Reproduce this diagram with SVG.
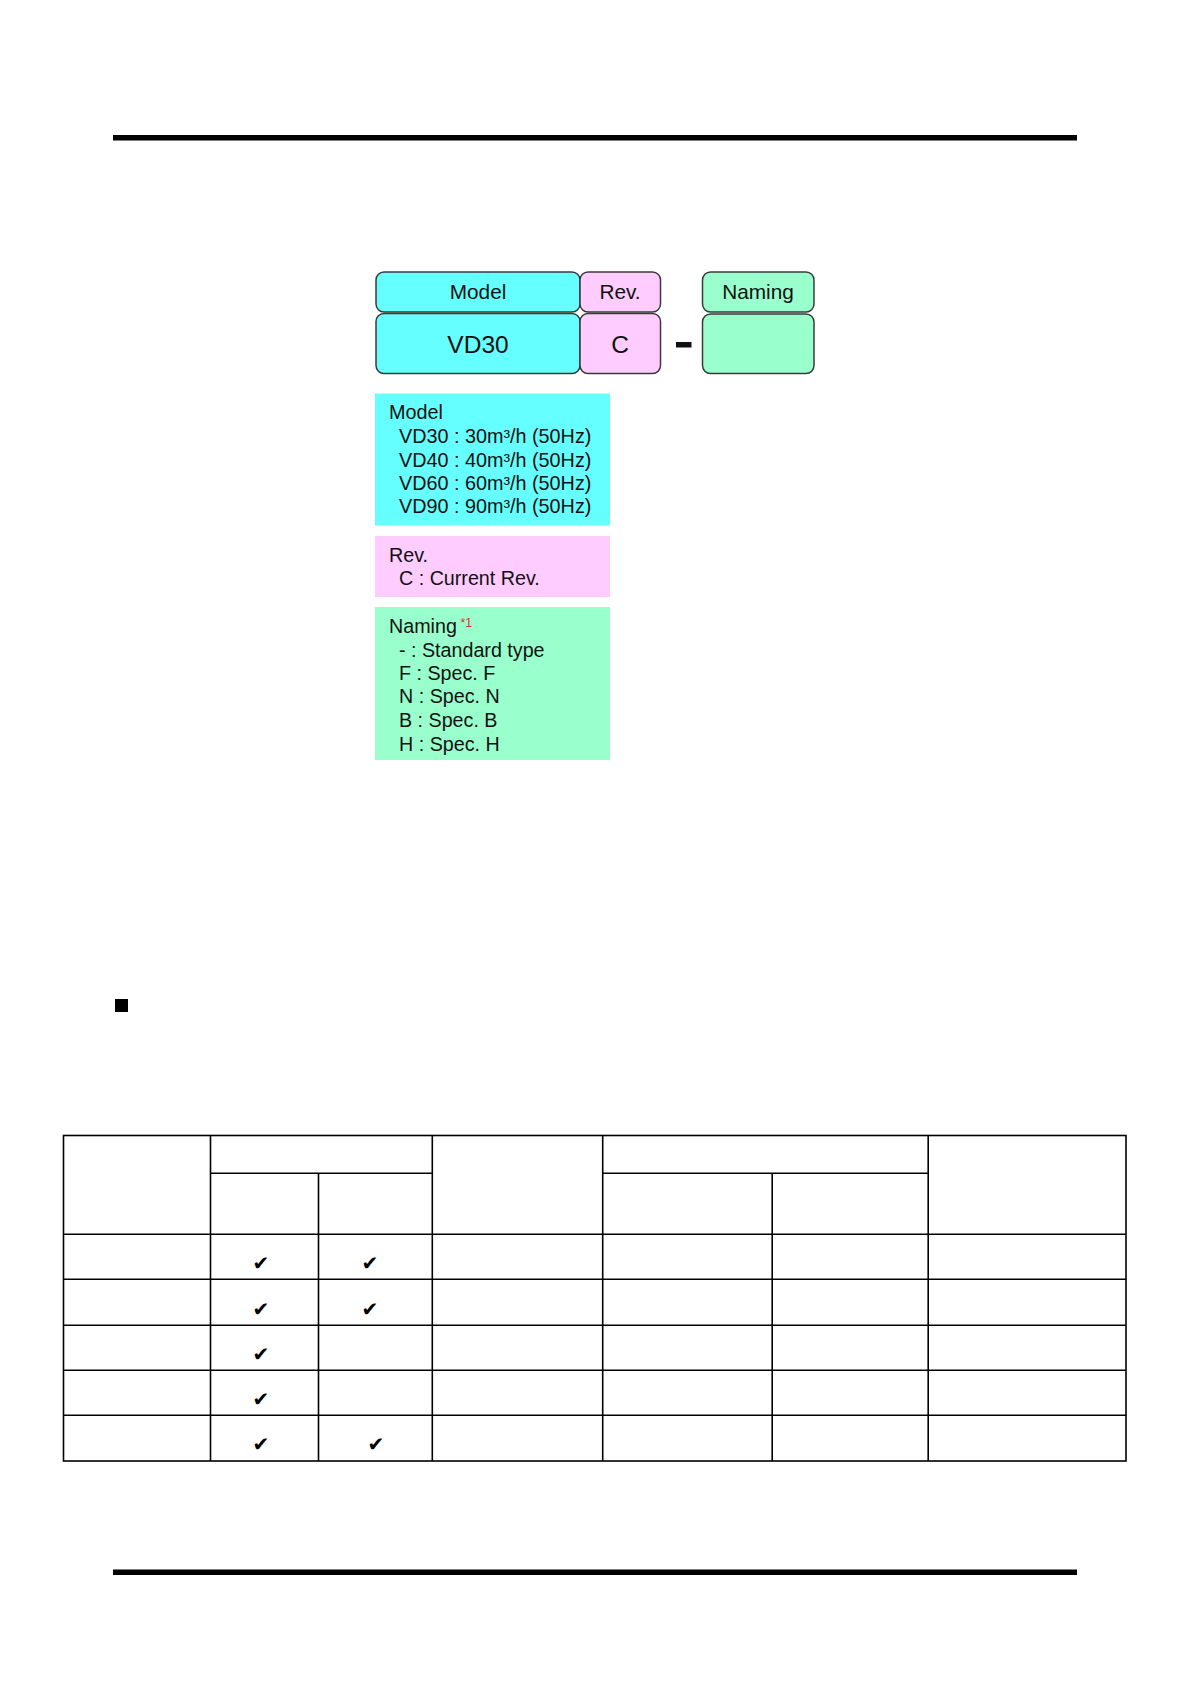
<svg xmlns="http://www.w3.org/2000/svg" width="1191" height="1684" viewBox="0 0 1191 1684">
<style>
.hdr{stroke:#3a3a3a;stroke-width:1.5}
.cy{fill:#66FFFF}
.pk{fill:#FFCCFF}
.gr{fill:#99FFCC}
.t{font-family:"Liberation Sans",Arial,sans-serif;fill:#111}
.tbl{stroke:#000;stroke-width:1.6;fill:none}
.chk{font-family:"DejaVu Sans",sans-serif;font-size:20px;fill:#000;text-anchor:middle}
</style>
<rect width="1191" height="1684" fill="#fff"/>
<rect x="113" y="135" width="964" height="5.5" fill="#000"/>
<rect x="113" y="1569.5" width="964" height="5.5" fill="#000"/>

<g id="code-model">
<rect class="hdr cy" x="376" y="272" width="204" height="40" rx="8"/>
<text class="t" x="478" y="299" font-size="20.8" text-anchor="middle">Model</text>
<rect class="hdr cy" x="376" y="313.5" width="204" height="60" rx="8"/>
<text class="t" x="478" y="352.5" font-size="24.5" text-anchor="middle">VD30</text>
</g>
<g id="code-rev">
<rect class="hdr pk" x="580" y="272" width="80.5" height="40" rx="8"/>
<text class="t" x="620" y="299" font-size="20.8" text-anchor="middle">Rev.</text>
<rect class="hdr pk" x="580" y="313.5" width="80.5" height="60" rx="8"/>
<text class="t" x="620" y="352.5" font-size="24.5" text-anchor="middle">C</text>
</g>
<rect id="dash" x="676" y="342" width="15.5" height="5.5" fill="#111"/>
<g id="code-naming">
<rect class="hdr gr" x="702.5" y="272" width="111.5" height="40" rx="8"/>
<text class="t" x="758" y="299" font-size="20.8" text-anchor="middle">Naming</text>
<rect class="hdr gr" x="702.5" y="314" width="111.5" height="59.5" rx="8"/>
</g>

<g id="desc-model">
<rect class="cy" x="375" y="393.5" width="235" height="132"/>
<g class="t" font-size="19.8">
<text x="389" y="419.3">Model</text>
<text x="399" y="443">VD30 : 30m³/h (50Hz)</text>
<text x="399" y="466.5">VD40 : 40m³/h (50Hz)</text>
<text x="399" y="490">VD60 : 60m³/h (50Hz)</text>
<text x="399" y="513.3">VD90 : 90m³/h (50Hz)</text>
</g>
</g>
<g id="desc-rev">
<rect class="pk" x="375" y="536" width="235" height="61"/>
<g class="t" font-size="19.7">
<text x="389" y="561.5">Rev.</text>
<text x="399" y="585">C : Current Rev.</text>
</g>
</g>
<g id="desc-naming">
<rect class="gr" x="375" y="607" width="235" height="153"/>
<g class="t" font-size="19.7">
<text x="389" y="633.3">Naming</text>
<text x="399" y="656.7">- : Standard type</text>
<text x="399" y="680">F : Spec. F</text>
<text x="399" y="703.3">N : Spec. N</text>
<text x="399" y="727">B : Spec. B</text>
<text x="399" y="750.5">H : Spec. H</text>
</g>
<text x="460.5" y="627" font-family="Liberation Sans,Arial,sans-serif" font-size="12.5" fill="#e03030">*1</text>
</g>

<rect id="bullet" x="115" y="999" width="13" height="13" fill="#000"/>

<g id="table" class="tbl">
<rect x="63.5" y="1135.5" width="1062.5" height="325.5"/>
<line x1="210.5" y1="1135.5" x2="210.5" y2="1461"/>
<line x1="318.5" y1="1173.3" x2="318.5" y2="1461"/>
<line x1="432.3" y1="1135.5" x2="432.3" y2="1461"/>
<line x1="602.7" y1="1135.5" x2="602.7" y2="1461"/>
<line x1="772.2" y1="1173.3" x2="772.2" y2="1461"/>
<line x1="928.2" y1="1135.5" x2="928.2" y2="1461"/>
<line x1="210.5" y1="1173.3" x2="432.3" y2="1173.3"/>
<line x1="602.7" y1="1173.3" x2="928.2" y2="1173.3"/>
<line x1="63.5" y1="1234.3" x2="1126" y2="1234.3"/>
<line x1="63.5" y1="1279.3" x2="1126" y2="1279.3"/>
<line x1="63.5" y1="1325.3" x2="1126" y2="1325.3"/>
<line x1="63.5" y1="1370.3" x2="1126" y2="1370.3"/>
<line x1="63.5" y1="1415.3" x2="1126" y2="1415.3"/>
</g>
<g id="checks">
<text class="chk" x="261" y="1270">✔</text>
<text class="chk" x="370" y="1270">✔</text>
<text class="chk" x="261" y="1315.5">✔</text>
<text class="chk" x="370" y="1315.5">✔</text>
<text class="chk" x="261" y="1360.5">✔</text>
<text class="chk" x="261" y="1406">✔</text>
<text class="chk" x="261" y="1451">✔</text>
<text class="chk" x="376" y="1451">✔</text>
</g>
</svg>
